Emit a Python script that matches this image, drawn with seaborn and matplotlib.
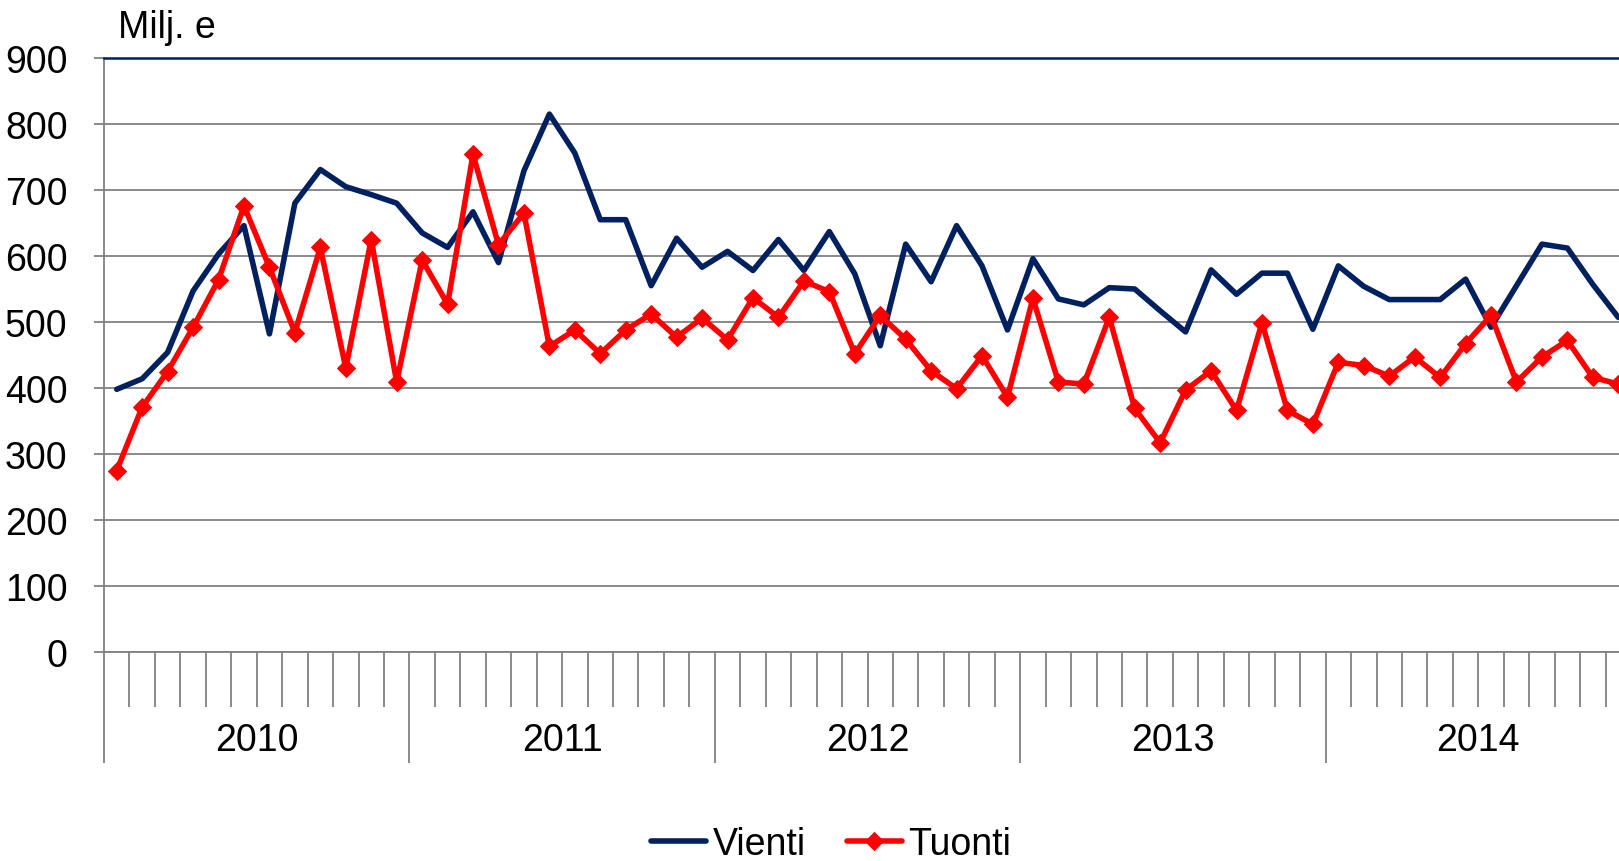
import numpy as np
import pandas as pd
import matplotlib.pyplot as plt
import matplotlib.transforms as mtransforms
import seaborn as sns

# monthly values, Milj. e, Jan 2010 - Dec 2014
years = ["2010", "2011", "2012", "2013", "2014"]
vienti = [
    398, 414, 454, 547, 603, 646, 482, 680, 731, 705, 693, 680,
    635, 613, 667, 590, 729, 815, 756, 655, 655, 555, 627, 583,
    607, 578, 625, 578, 637, 573, 464, 618, 561, 646, 585, 488,
    596, 535, 526, 552, 550, 517, 485, 579, 542, 574, 574, 489,
    585, 554, 534, 534, 534, 565, 492, 555, 618, 612, 557, 507,
]
tuonti = [
    275, 371, 425, 492, 564, 676, 583, 484, 613, 430, 625, 409,
    594, 527, 754, 617, 665, 463, 488, 452, 488, 512, 477, 506,
    473, 537, 507, 562, 546, 452, 510, 474, 426, 399, 449, 386,
    536, 409, 406, 507, 369, 317, 397, 426, 366, 499, 366, 345,
    439, 434, 418, 447, 416, 467, 510, 409, 447, 472, 416, 406,
]
yticks = [0, 100, 200, 300, 400, 500, 600, 700, 800, 900]

NAVY = "#002060"
RED = "#FF0000"
GREY = "#808080"
FS = 27

df = pd.DataFrame({"month": np.arange(len(vienti)), "Vienti": vienti, "Tuonti": tuonti})

sns.set_style("white")
plt.rcParams["font.family"] = ["Liberation Sans", "DejaVu Sans"]
plt.rcParams["text.color"] = "black"
plt.rcParams["xtick.labelcolor"] = "black"
plt.rcParams["ytick.labelcolor"] = "black"

fig = plt.figure(figsize=(16.19, 8.62), dpi=100)
ax = fig.add_axes([104 / 1619, 1 - 653 / 862, 1527 / 1619, 594 / 862])

sns.lineplot(data=df, x="month", y="Vienti", color=NAVY, linewidth=4,
             solid_joinstyle="round", solid_capstyle="round",
             ax=ax, label="Vienti", zorder=3)
sns.lineplot(data=df, x="month", y="Tuonti", color=RED, linewidth=4,
             solid_joinstyle="round", solid_capstyle="round",
             marker="D", markersize=9, markeredgecolor=RED,
             ax=ax, label="Tuonti", zorder=4)

ax.set_xlim(-0.5, len(vienti) - 0.5)
ax.set_ylim(0, 900)
ax.set_xlabel("")
ax.set_ylabel("")

# y axis
ax.set_yticks(yticks)
ax.set_yticklabels([str(v) for v in yticks], fontsize=FS, color="black")
ax.yaxis.grid(True, color=GREY, linewidth=1.3)
ax.tick_params(axis="y", direction="out", length=7.2, width=1.3, color=GREY,
               pad=19, left=True)

# x axis: month boundaries short, year boundaries long
n_years = len(years)
year_edges = [12 * k - 0.5 for k in range(n_years + 1)]
month_edges = [m - 0.5 for m in range(1, 12 * n_years) if m % 12 != 0]
ax.set_xticks(year_edges)
ax.set_xticklabels([])
ax.set_xticks(month_edges, minor=True)
ax.tick_params(axis="x", which="major", direction="out", length=80, width=1.3,
               color=GREY, bottom=True)
ax.tick_params(axis="x", which="minor", direction="out", length=39.6, width=1.3,
               color=GREY, bottom=True)
trans = mtransforms.blended_transform_factory(ax.transData, ax.transAxes)
for k, yr in enumerate(years):
    ax.text(12 * k + 5.5, -0.148, yr, transform=trans, ha="center", va="center",
            fontsize=FS, color="black")

for side in ["left", "bottom"]:
    ax.spines[side].set_color(GREY)
    ax.spines[side].set_linewidth(1.3)
ax.spines["top"].set_color(NAVY)
ax.spines["top"].set_linewidth(1.8)
ax.spines["right"].set_visible(False)

fig.text(118 / 1619, 1 - 38 / 862, "Milj. e", fontsize=FS, ha="left",
         va="baseline", color="black")

handles, labels = ax.get_legend_handles_labels()
ax.get_legend().remove()
fig.legend(handles, labels, loc="center", bbox_to_anchor=(831 / 1619, 1 - 845 / 862),
           ncol=2, frameon=False, fontsize=FS, handlelength=1.47,
           handletextpad=0.16, columnspacing=1.1, borderpad=0, borderaxespad=0,
           labelcolor="black")

fig.savefig("out.png", dpi=100)
